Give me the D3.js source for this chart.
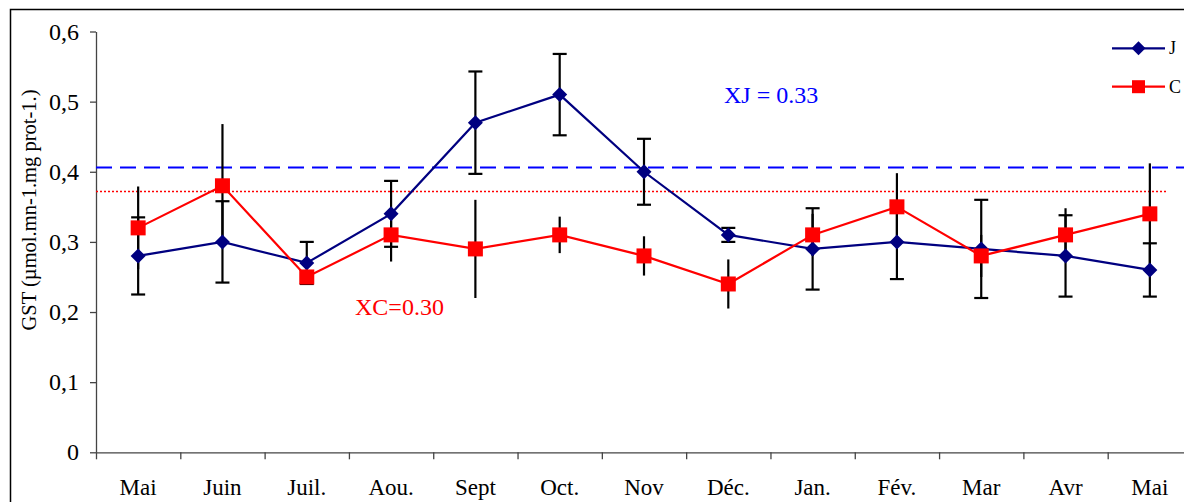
<!DOCTYPE html>
<html><head><meta charset="utf-8">
<script src="https://cdn.jsdelivr.net/npm/d3@7"></script>
<style>body{margin:0;background:#fff}svg{display:block}
svg text{font-family:"Liberation Serif","Times New Roman",Tinos,"DejaVu Serif",serif}</style>
</head><body><svg id="c" width="1184" height="502"></svg>
<script>
const months = ["Mai","Juin","Juil.","Aou.","Sept","Oct.","Nov","Déc.","Jan.","Fév.","Mar","Avr","Mai"];
const seriesJ = [0.28,0.30,0.27,0.34,0.47,0.51,0.40,0.31,0.29,0.30,0.29,0.28,0.26];
const errJ    = [0.055,0.058,0.03,0.047,0.073,0.058,0.047,0.01,0.058,0.053,0.07,0.058,0.038];
const seriesC = [0.32,0.38,0.25,0.31,0.29,0.31,0.28,0.24,0.31,0.35,0.28,0.31,0.34];
const errC    = [0.059,0.088,0.01,0.038,0.07,0.026,0.028,0.035,0.03,0.048,0.03,0.038,0.072];
const yTicks = [0,0.1,0.2,0.3,0.4,0.5,0.6];
const meanJLine = 0.406, meanCLine = 0.372;
const meanJText = "XJ = 0.33", meanCText = "XC=0.30";
const yLabel = "GST (µmol.mn-1.mg prot-1.)";

const svg = d3.select("#c");
const L = 96, R = 1192, T = 31.5, B = 452.3;
const idx = months.map((_, i) => i);
const x = d3.scalePoint().domain(idx).range([L, R]).padding(0.5);
const xEdge = d3.scaleLinear().domain([0, months.length]).range([L, R]);
const y = d3.scaleLinear().domain([0, 0.6]).range([B, T]);

svg.append("rect").attr("x",10.5).attr("y",9.5).attr("width",1300).attr("height",600)
  .attr("fill","none").attr("stroke","#000").attr("stroke-width",1.5);

const gy = svg.append("g").attr("transform",`translate(${L},0)`)
  .call(d3.axisLeft(y).tickValues(yTicks).tickSize(6).tickSizeOuter(0)
    .tickFormat(d => d === 0 ? "0" : d3.format(".1f")(d).replace(".", ",")));
gy.attr("font-family", null).attr("font-size", null);
gy.select(".domain").attr("stroke","#444").attr("stroke-width",1.3);
gy.selectAll(".tick line").attr("stroke","#444").attr("stroke-width",1.3);
gy.selectAll("text").style("font-size","24px").attr("fill","#000").attr("x",-17);

const gx = svg.append("g").attr("transform",`translate(0,${B})`)
  .call(d3.axisBottom(xEdge).tickValues(d3.range(0, months.length + 1)).tickSize(7).tickSizeOuter(0).tickFormat(""));
gx.select(".domain").attr("stroke","#444").attr("stroke-width",1.3);
gx.selectAll(".tick line").attr("stroke","#444").attr("stroke-width",1.3);

svg.append("g").selectAll("text").data(idx).join("text")
  .attr("x", i => x(i)).attr("y", 495).attr("text-anchor","middle")
  .style("font-size","23px").text(i => months[i]);

svg.append("text").attr("transform","translate(36,210) rotate(-90)").attr("text-anchor","middle")
  .style("font-size","20.5px").text(yLabel);

svg.append("line").attr("x1",L).attr("x2",1200).attr("y1",y(meanJLine)).attr("y2",y(meanJLine))
  .attr("stroke","#0000ff").attr("stroke-width",2).attr("stroke-dasharray","16,8");
svg.append("line").attr("x1",L).attr("x2",1166).attr("y1",y(meanCLine)).attr("y2",y(meanCLine))
  .attr("stroke","#ff0000").attr("stroke-width",1.5).attr("stroke-dasharray","2,2");

svg.append("text").attr("x",724).attr("y",103).style("font-size","24px")
  .attr("fill","#0000ff").text(meanJText);
svg.append("text").attr("x",355).attr("y",315).style("font-size","24px")
  .attr("fill","#ff0000").text(meanCText);

svg.append("g").selectAll("line").data(idx).join("line")
  .attr("x1", i => x(i)).attr("x2", i => x(i))
  .attr("y1", i => y(seriesC[i] - errC[i])).attr("y2", i => y(seriesC[i] + errC[i]))
  .attr("stroke","#000").attr("stroke-width",2.2);
const ej = svg.append("g").selectAll("g").data(idx).join("g");
ej.append("line").attr("x1", i => x(i)).attr("x2", i => x(i))
  .attr("y1", i => y(seriesJ[i] - errJ[i])).attr("y2", i => y(seriesJ[i] + errJ[i]))
  .attr("stroke","#000").attr("stroke-width",2.2);
[1,-1].forEach(s => {
  ej.append("line").attr("x1", i => x(i) - 7).attr("x2", i => x(i) + 7)
    .attr("y1", i => y(seriesJ[i] + s*errJ[i])).attr("y2", i => y(seriesJ[i] + s*errJ[i]))
    .attr("stroke","#000").attr("stroke-width",2.2);
});

const line = d3.line().x((d, i) => x(i)).y(d => y(d));
svg.append("path").datum(seriesJ).attr("d", line).attr("fill","none").attr("stroke","#000080").attr("stroke-width",2.2);
svg.append("path").datum(seriesC).attr("d", line).attr("fill","none").attr("stroke","#ff0000").attr("stroke-width",2.2);

const diamond = (cx, cy, r) => `M${cx},${cy - r}L${cx + r},${cy}L${cx},${cy + r}L${cx - r},${cy}Z`;
svg.append("g").selectAll("path").data(idx).join("path")
  .attr("d", i => diamond(x(i), y(seriesJ[i]), 7.5)).attr("fill","#000080");
svg.append("g").selectAll("rect").data(idx).join("rect")
  .attr("x", i => x(i) - 7.5).attr("y", i => y(seriesC[i]) - 7.5).attr("width",15).attr("height",15)
  .attr("fill","#ff0000");

const leg = [{name:"J", color:"#000080", yy:48.3, shape:"d"},{name:"C", color:"#ff0000", yy:86.7, shape:"s"}];
leg.forEach(l => {
  svg.append("line").attr("x1",1112).attr("x2",1165).attr("y1",l.yy).attr("y2",l.yy)
    .attr("stroke",l.color).attr("stroke-width",2.2);
  if (l.shape === "d") svg.append("path").attr("d", diamond(1138.5, l.yy, 7)).attr("fill", l.color);
  else svg.append("rect").attr("x",1132).attr("y",l.yy-6.5).attr("width",13).attr("height",13).attr("fill",l.color);
  svg.append("text").attr("x",1169).attr("y",l.yy+6).style("font-size","18px").text(l.name);
});
</script></body></html>
